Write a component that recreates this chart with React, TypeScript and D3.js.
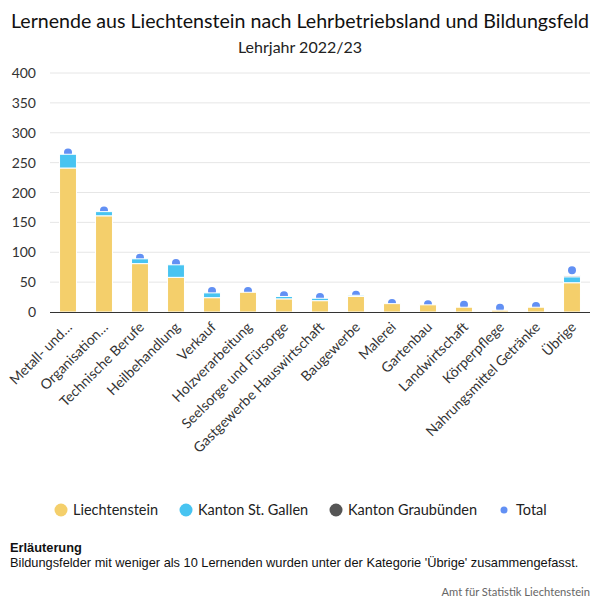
import { useEffect, useRef } from 'react'
import * as d3 from 'd3'

const categories = [
  'Metall- und…', 'Organisation…', 'Technische Berufe', 'Heilbehandlung', 'Verkauf',
  'Holzverarbeitung', 'Seelsorge und Fürsorge', 'Gastgewerbe Hauswirtschaft', 'Baugewerbe',
  'Malerei', 'Gartenbau', 'Landwirtschaft', 'Körperpflege', 'Nahrungsmittel Getränke', 'Übrige',
]
const liechtenstein = [241, 161, 81, 58, 24, 33, 22, 19, 26, 14, 12, 8, 3, 8, 49]
const stGallen = [23, 7, 8, 21, 8, 0, 4, 4, 2, 0, 0, 0, 0, 0, 10]
const graubuenden = [0, 0, 0, 0, 0, 0, 0, 0, 0, 0, 0, 0, 0, 0, 2]
const total = [267, 170, 91, 82, 35, 35, 28, 25, 29, 15, 13, 12, 7, 10, 70]
const yTicks = [0, 50, 100, 150, 200, 250, 300, 350, 400]

const series = [
  { name: 'Liechtenstein', values: liechtenstein, color: '#F4CF6B' },
  { name: 'Kanton St. Gallen', values: stGallen, color: '#48C4F1' },
  { name: 'Kanton Graubünden', values: graubuenden, color: '#555555' },
]
const totalColor = '#6290F4'
const font = 'Lato, "Noto Sans", sans-serif'

export default function App() {
  const svgRef = useRef<SVGSVGElement | null>(null)

  useEffect(() => {
    if (!svgRef.current) return
    const svg = d3.select(svgRef.current)
    svg.selectAll('*').remove()

    const left = 50, right = 590, top = 73, bottom = 312
    const x = d3.scaleBand<string>().domain(categories).range([left, right]).paddingInner(0.53).paddingOuter(0.265)
    const y = d3.scaleLinear().domain([0, 400]).range([bottom, top])

    // title
    svg.append('text').attr('x', 300).attr('y', 28).attr('text-anchor', 'middle')
      .attr('font-family', font).attr('font-size', '19.6px').attr('fill', '#111')
      .text('Lernende aus Liechtenstein nach Lehrbetriebsland und Bildungsfeld')
    svg.append('text').attr('x', 300).attr('y', 53).attr('text-anchor', 'middle')
      .attr('font-family', font).attr('font-size', '16px').attr('fill', '#222')
      .text('Lehrjahr 2022/23')

    // grid + y labels
    yTicks.forEach(t => {
      if (t > 0) {
        svg.append('line').attr('x1', left).attr('x2', right).attr('y1', y(t)).attr('y2', y(t))
          .attr('stroke', '#e6e6e6').attr('stroke-width', 1)
      }
      svg.append('text').attr('x', 36).attr('y', y(t) + 5).attr('text-anchor', 'end')
        .attr('font-family', font).attr('font-size', '14px').attr('fill', '#333').text(t)
    })

    // total dots (behind bars)
    svg.append('g').selectAll('circle').data(total).join('circle')
      .attr('cx', (_, i) => x(categories[i])! + x.bandwidth() / 2)
      .attr('cy', d => y(d))
      .attr('r', 4)
      .attr('fill', totalColor)

    // stacked bars
    const stacked = d3.stack<number>().keys(series.map((_, k) => String(k)))
      .value((i, key) => series[+key].values[i])(categories.map((_, i) => i))
    stacked.forEach((layer, k) => {
      svg.append('g').selectAll('rect').data(layer).join('rect')
        .attr('x', (_, i) => x(categories[i])!)
        .attr('width', x.bandwidth())
        .attr('y', d => y(d[1]))
        .attr('height', d => Math.max(0, y(d[0]) - y(d[1])))
        .attr('fill', series[k].color)
        .attr('stroke', '#fff').attr('stroke-width', 1)
    })

    // x axis line
    svg.append('line').attr('x1', left).attr('x2', right).attr('y1', bottom + 0.5).attr('y2', bottom + 0.5)
      .attr('stroke', '#333').attr('stroke-width', 1)

    // x labels
    categories.forEach(c => {
      const cx = x(c)! + x.bandwidth() / 2 + 5
      svg.append('text').attr('transform', `translate(${cx},${bottom + 16}) rotate(-45)`)
        .attr('text-anchor', 'end').attr('font-family', font).attr('font-size', '14px').attr('fill', '#333')
        .text(c)
    })

    // legend
    const legendItems = [
      { label: series[0].name, color: series[0].color, r: 6.5, cx: 61 },
      { label: series[1].name, color: series[1].color, r: 6.5, cx: 186 },
      { label: series[2].name, color: series[2].color, r: 6.5, cx: 336 },
      { label: 'Total', color: totalColor, r: 3.5, cx: 504 },
    ]
    legendItems.forEach(it => {
      svg.append('circle').attr('cx', it.cx).attr('cy', 510).attr('r', it.r).attr('fill', it.color)
      svg.append('text').attr('x', it.cx + 12).attr('y', 515).attr('font-family', font)
        .attr('font-size', '14.5px').attr('fill', '#222').text(it.label)
    })

    // notes
    svg.append('text').attr('x', 10).attr('y', 552).attr('font-family', '"Liberation Sans", Arial, sans-serif')
      .attr('font-size', '12.8px').attr('font-weight', 'bold').attr('fill', '#111').text('Erläuterung')
    svg.append('text').attr('x', 10).attr('y', 567).attr('font-family', '"Liberation Sans", Arial, sans-serif')
      .attr('font-size', '12.8px').attr('fill', '#111')
      .text("Bildungsfelder mit weniger als 10 Lernenden wurden unter der Kategorie 'Übrige' zusammengefasst.")
    svg.append('text').attr('x', 590).attr('y', 596).attr('text-anchor', 'end').attr('font-family', font)
      .attr('font-size', '11.2px').attr('fill', '#666').text('Amt für Statistik Liechtenstein')
  }, [])

  return (
    <svg ref={svgRef} width={600} height={600} viewBox="0 0 600 600"
      style={{ position: 'absolute', left: 0, top: 0, background: '#fff' }} />
  )
}
